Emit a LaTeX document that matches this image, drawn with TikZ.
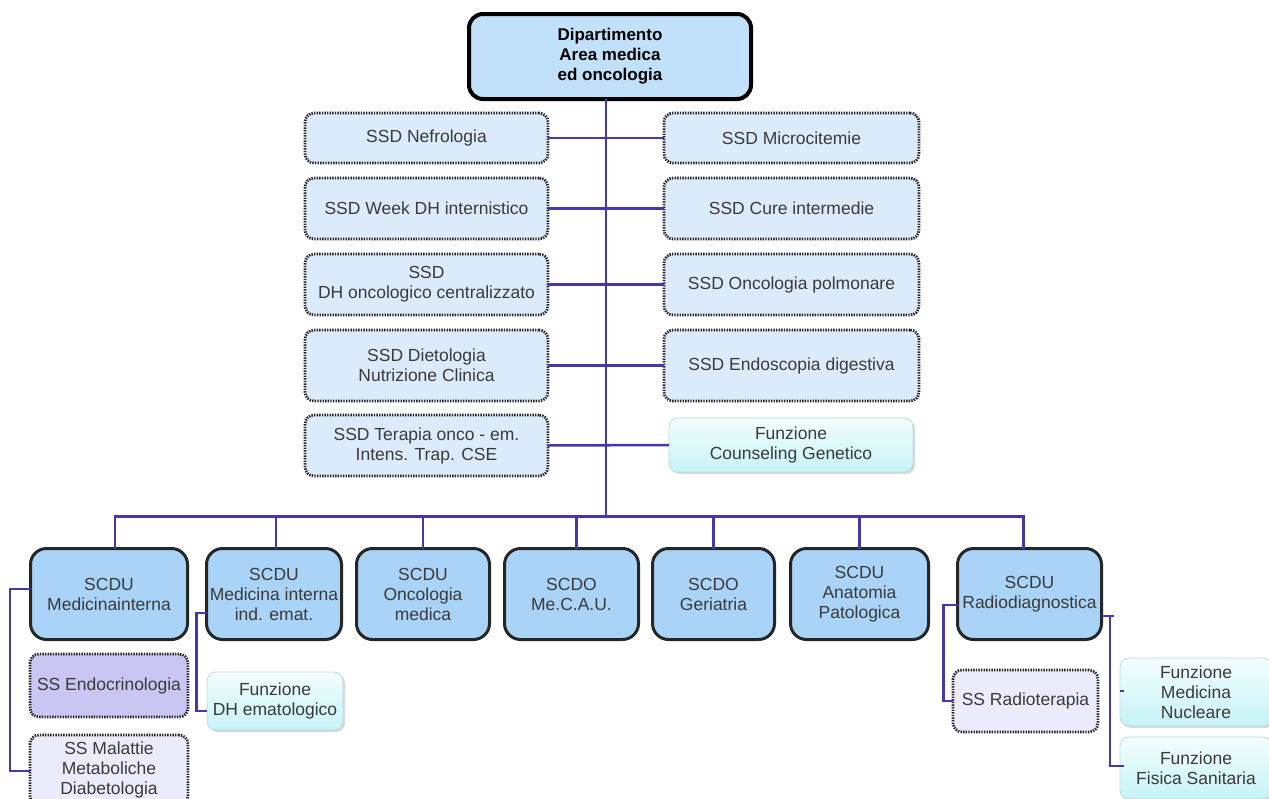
\documentclass[tikz,border=0pt]{standalone}
\usepackage{fontspec}
\setmainfont{Liberation Sans}
\usetikzlibrary{calc,shadows}
\definecolor{linec}{HTML}{4638A8}
\definecolor{topfill}{HTML}{C1E1FA}
\definecolor{ssdfill}{HTML}{DCEBFB}
\definecolor{scdufill}{HTML}{A9D4F8}
\definecolor{endofill}{HTML}{C9C6F3}
\definecolor{ssfill}{HTML}{ECEBFB}
\definecolor{funtop}{HTML}{F4FDFE}
\definecolor{funbot}{HTML}{C6F3F7}
\definecolor{txt}{HTML}{3A3A3A}
\tikzset{
  base/.style={inner sep=0pt, outer sep=0pt, align=center, text=txt,
    font=\fontsize{17.5}{20}\selectfont},
  topbox/.style={base, rounded corners=14pt, draw=black, line width=4pt,
    fill=topfill, text=black, font=\bfseries\fontsize{17}{20}\selectfont},
  ssdbox/.style={base, rounded corners=9pt, draw=black!85, line width=2.8pt,
    dash pattern=on 1.4pt off 1.2pt, fill=ssdfill},
  ssbox/.style={ssdbox, fill=ssfill},
  endobox/.style={ssdbox, fill=endofill},
  scdubox/.style={base, rounded corners=16pt, draw=black!85, line width=3pt,
    fill=scdufill},
  funbox/.style={base, rounded corners=9pt, draw=funbot!80!gray, line width=0.8pt,
    top color=funtop, bottom color=funbot,
    drop shadow={shadow xshift=2pt, shadow yshift=-2pt, fill=black!30, opacity=.5}},
  conn/.style={draw=linec, line width=2.5pt}
}
\begin{document}
\begin{tikzpicture}[x=1pt,y=-1pt]
\useasboundingbox (0,0) rectangle (1269,798);
\fill[white] (0,0) rectangle (1269,798);

% top
\node[topbox, minimum width=282, minimum height=85] (top) at (610,56.5)
  {Dipartimento\\Area medica\\ed oncologia};

% SSD rows
\node[ssdbox, minimum width=243, minimum height=50] (l1) at (426.5,138) {SSD Nefrologia};
\node[ssdbox, minimum width=255, minimum height=50] (r1) at (791.5,138) {SSD Microcitemie};
\node[ssdbox, minimum width=243, minimum height=61] (l2) at (426.5,208.5) {SSD Week DH internistico};
\node[ssdbox, minimum width=255, minimum height=61] (r2) at (791.5,208.5) {SSD Cure intermedie};
\node[ssdbox, minimum width=243, minimum height=61] (l3) at (426.5,284.5) {SSD\\DH oncologico centralizzato};
\node[ssdbox, minimum width=255, minimum height=61] (r3) at (791.5,284.5) {SSD Oncologia polmonare};
\node[ssdbox, minimum width=243, minimum height=71] (l4) at (426.5,365.5) {SSD Dietologia\\Nutrizione Clinica};
\node[ssdbox, minimum width=255, minimum height=71] (r4) at (791.5,365.5) {SSD Endoscopia digestiva};
\node[ssdbox, minimum width=243, minimum height=61] (l5) at (426.5,445.5) {SSD Terapia onco - em.\\Intens. Trap. CSE};
\node[funbox, minimum width=244, minimum height=54] (r5) at (791,445) {Funzione\\Counseling Genetico};

% SCDU row
\node[scdubox, minimum width=157, minimum height=91] (b1) at (109,594) {SCDU\\Medicinainterna};
\node[scdubox, minimum width=135, minimum height=91] (b2) at (274,594) {SCDU\\Medicina interna\\ind. emat.};
\node[scdubox, minimum width=133, minimum height=91] (b3) at (423,594) {SCDU\\Oncologia\\medica};
\node[scdubox, minimum width=134, minimum height=91] (b4) at (571.5,594) {SCDO\\Me.C.A.U.};
\node[scdubox, minimum width=122, minimum height=91] (b5) at (713.5,594) {SCDO\\Geriatria};
\node[scdubox, minimum width=138, minimum height=91] (b6) at (859.5,594) {SCDU\\Anatomia\\Patologica};
\node[scdubox, minimum width=144, minimum height=91] (b7) at (1029.5,594) {SCDU\\Radiodiagnostica};

% sub boxes
\node[endobox, minimum width=158, minimum height=63] (endo) at (109,685.5) {SS Endocrinologia};
\node[ssbox, minimum width=158, minimum height=70] (mal) at (109,770) {SS Malattie\\Metaboliche\\Diabetologia};
\node[funbox, minimum width=136, minimum height=58] (dh) at (275,701) {Funzione\\DH ematologico};
\node[ssbox, minimum width=145, minimum height=62] (rt) at (1025.5,701) {SS Radioterapia};
\node[funbox, minimum width=152, minimum height=68] (nuc) at (1196,692) {Funzione\\Medicina\\Nucleare};
\node[funbox, minimum width=152, minimum height=62] (fis) at (1196,768) {Funzione\\Fisica Sanitaria};

% connectors
\coordinate (hub) at (606,515);
\draw[conn] (top.south -| hub) -- (hub);
\draw[conn] (l1.east) -- (r1.west);
\draw[conn] (l2.east) -- (r2.west);
\draw[conn] (l3.east) -- (r3.west);
\draw[conn] (l4.east) -- (r4.west);
\draw[conn] (l5.east) -- (r5.west);
\draw[conn] ($(b1.north)+(6,0)$) |- ($(b7.north)+(-6,-32)$) -- ($(b7.north)+(-6,0)$);
\draw[conn] ($(b2.north)+(2,0)$) -- ($(b2.north)+(2,-32)$);
\draw[conn] (b3.north) -- (b3.north |- hub);
\draw[conn] ($(b4.north)+(5,0)$) -- ($(b4.north)+(5,-32)$);
\draw[conn] (b5.north) -- (b5.north |- hub);
\draw[conn] (b6.north) -- (b6.north |- hub);

% left sub connectors
\coordinate (lj) at (10,589);
\draw[conn] ($(b1.west)+(0,-5)$) -- (lj) |- ($(mal.west)+(0,1)$);
\draw[conn] ($(endo.west)+(0,-5)$) -- ($(endo.west)+(0,-5)$ -| lj);
\draw[conn] ($(b2.west)+(0,19)$) -- ++(-10,0) |- ($(dh.west)+(0,10)$);
\draw[conn] ($(b7.west)+(0,11)$) -- ++(-14,0) |- (rt.west);
\coordinate (rj) at (1110,616);
\draw[conn] ($(b7.east)+(0,22)$) -- ($(rj)+(4,0)$);
\draw[conn] (rj) |- ($(fis.west)+(4,-2)$);
\draw[conn] ($(nuc.west)+(4,-1)$) -- ($(nuc.west)+(0,-1)$ -| 1106,0);
\end{tikzpicture}
\end{document}
